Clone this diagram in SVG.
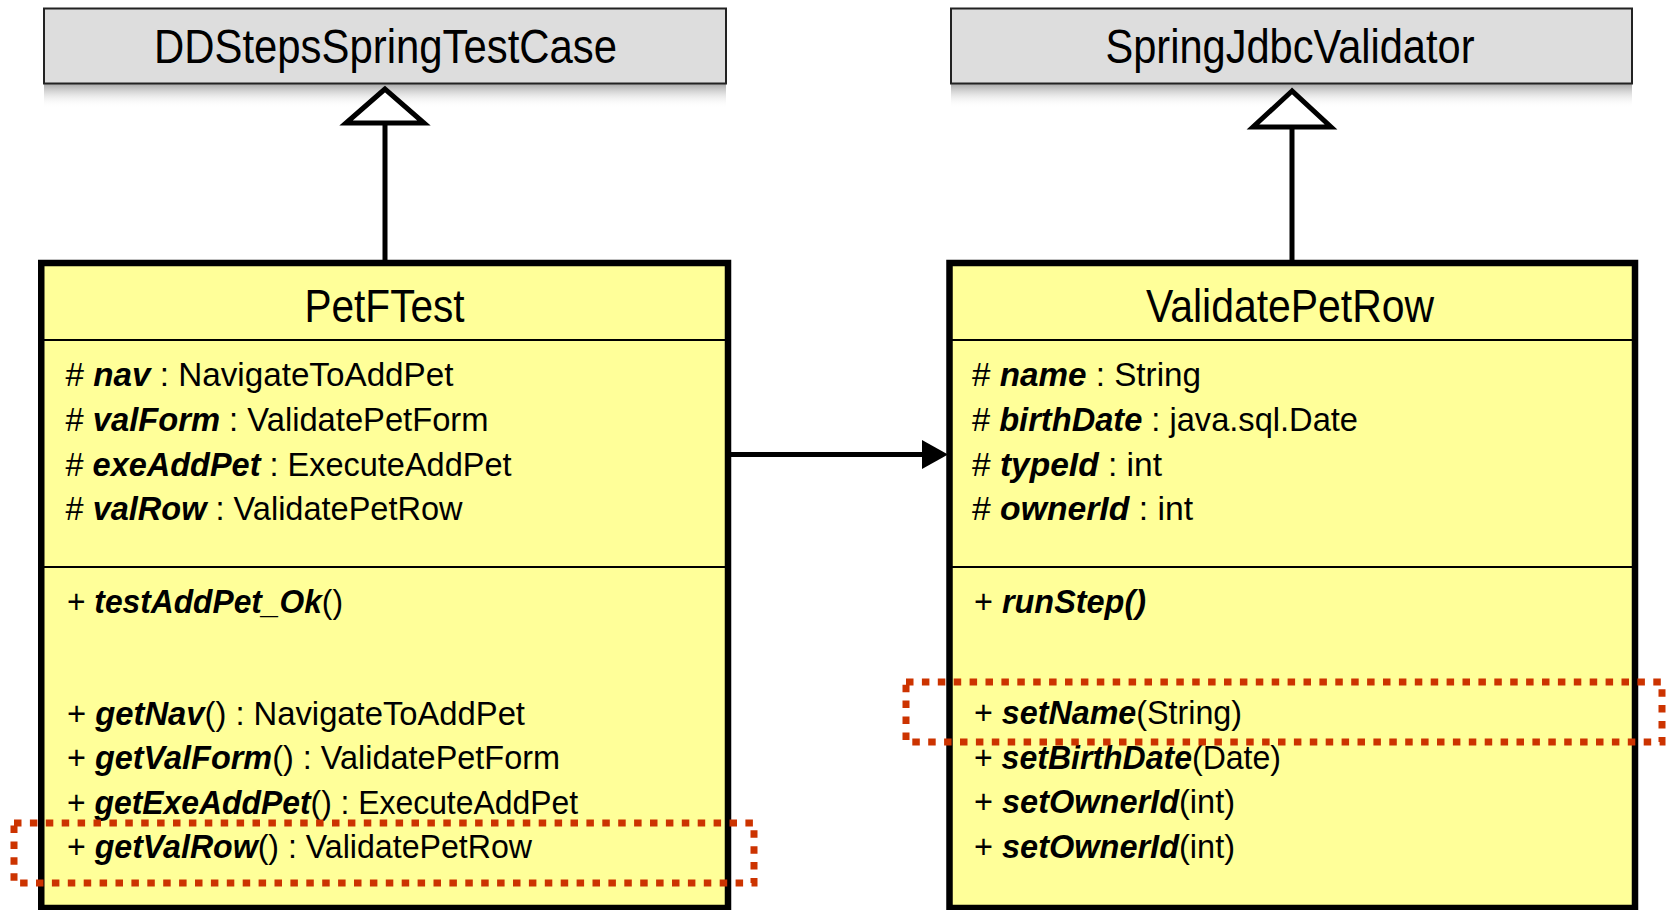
<svg xmlns="http://www.w3.org/2000/svg" width="1666" height="910" viewBox="0 0 1666 910">
<style>
text{font-family:"Liberation Sans Narrow","Liberation Sans",Arial,sans-serif;fill:#000}
.title{font-size:48px;text-anchor:middle}
.cname{font-size:46px;text-anchor:middle}
.m{font-size:33px}
.b{font-weight:bold;font-style:italic}
.parent{fill:#dddddd;stroke:#222;stroke-width:2}
.cls{fill:#ffff99;stroke:#000;stroke-width:6.5}
.div{stroke:#000;stroke-width:2.2;fill:none}
.edge{stroke:#000;stroke-width:5;fill:none}
.tri{fill:#fff;stroke:#000;stroke-width:5;stroke-linejoin:miter}
.hl{fill:none;stroke:#cc3300;stroke-width:7;stroke-dasharray:7.5 8.4}
</style>
<defs>
<linearGradient id="shadow" x1="0" y1="0" x2="0" y2="1">
<stop offset="0" stop-color="#a8a8a8"/>
<stop offset="1" stop-color="#ffffff" stop-opacity="0"/>
</linearGradient>
</defs>

<g id="DDStepsSpringTestCase">
<rect x="44" y="84" width="682" height="24" fill="url(#shadow)"/>
<rect class="parent" x="44" y="8.5" width="682" height="75"/>
<text class="title" x="385.5" y="63" textLength="463" lengthAdjust="spacingAndGlyphs">DDStepsSpringTestCase</text>
</g>

<g id="SpringJdbcValidator">
<rect x="951" y="84" width="681" height="24" fill="url(#shadow)"/>
<rect class="parent" x="951" y="8.5" width="681" height="75"/>
<text class="title" x="1290" y="63" textLength="369" lengthAdjust="spacingAndGlyphs">SpringJdbcValidator</text>
</g>

<g id="PetFTest">
<rect class="cls" x="41.25" y="263" width="686.75" height="645"/>
<line class="div" x1="44" y1="340" x2="725" y2="340"/>
<line class="div" x1="44" y1="567" x2="725" y2="567"/>
<text class="cname" x="384.5" y="322" textLength="160" lengthAdjust="spacingAndGlyphs">PetFTest</text>
<text class="m" x="65.5" y="386" textLength="388" lengthAdjust="spacingAndGlyphs"># <tspan class="b">nav</tspan> : NavigateToAddPet</text>
<text class="m" x="65.5" y="431" textLength="423" lengthAdjust="spacingAndGlyphs"># <tspan class="b">valForm</tspan> : ValidatePetForm</text>
<text class="m" x="65.5" y="475.5" textLength="446" lengthAdjust="spacingAndGlyphs"># <tspan class="b">exeAddPet</tspan> : ExecuteAddPet</text>
<text class="m" x="65.5" y="520" textLength="397" lengthAdjust="spacingAndGlyphs"># <tspan class="b">valRow</tspan> : ValidatePetRow</text>
<text class="m" x="67" y="613" textLength="276" lengthAdjust="spacingAndGlyphs">+ <tspan class="b">testAddPet_Ok</tspan>()</text>
<text class="m" x="67" y="725" textLength="458" lengthAdjust="spacingAndGlyphs">+ <tspan class="b">getNav</tspan>() : NavigateToAddPet</text>
<text class="m" x="67" y="769" textLength="493" lengthAdjust="spacingAndGlyphs">+ <tspan class="b">getValForm</tspan>() : ValidatePetForm</text>
<text class="m" x="67" y="814" textLength="511" lengthAdjust="spacingAndGlyphs">+ <tspan class="b">getExeAddPet</tspan>() : ExecuteAddPet</text>
<text class="m" x="67" y="858" textLength="465" lengthAdjust="spacingAndGlyphs">+ <tspan class="b">getValRow</tspan>() : ValidatePetRow</text>
</g>

<g id="ValidatePetRow">
<rect class="cls" x="949.5" y="263" width="685.5" height="645"/>
<line class="div" x1="952" y1="340" x2="1632" y2="340"/>
<line class="div" x1="952" y1="567" x2="1632" y2="567"/>
<text class="cname" x="1290" y="322" textLength="288" lengthAdjust="spacingAndGlyphs">ValidatePetRow</text>
<text class="m" x="972" y="386" textLength="229" lengthAdjust="spacingAndGlyphs"># <tspan class="b">name</tspan> : String</text>
<text class="m" x="972" y="431" textLength="386" lengthAdjust="spacingAndGlyphs"># <tspan class="b">birthDate</tspan> : java.sql.Date</text>
<text class="m" x="972" y="475.5" textLength="190" lengthAdjust="spacingAndGlyphs"># <tspan class="b">typeId</tspan> : int</text>
<text class="m" x="972" y="520" textLength="221" lengthAdjust="spacingAndGlyphs"># <tspan class="b">ownerId</tspan> : int</text>
<text class="m" x="974" y="613" textLength="172" lengthAdjust="spacingAndGlyphs">+ <tspan class="b">runStep()</tspan></text>
<text class="m" x="974" y="724" textLength="268" lengthAdjust="spacingAndGlyphs">+ <tspan class="b">setName</tspan>(String)</text>
<text class="m" x="974" y="769" textLength="307" lengthAdjust="spacingAndGlyphs">+ <tspan class="b">setBirthDate</tspan>(Date)</text>
<text class="m" x="974" y="813" textLength="261" lengthAdjust="spacingAndGlyphs">+ <tspan class="b">setOwnerId</tspan>(int)</text>
<text class="m" x="974" y="858" textLength="261" lengthAdjust="spacingAndGlyphs">+ <tspan class="b">setOwnerId</tspan>(int)</text>
</g>

<g id="connectors">
<line class="edge" x1="385" y1="124" x2="385" y2="261"/>
<polygon class="tri" points="385,89 346,123 424,123"/>
<line class="edge" x1="1292" y1="127" x2="1292" y2="261"/>
<polygon class="tri" points="1292,91 1253,127 1331,127"/>
<line class="edge" x1="730" y1="454.5" x2="925" y2="454.5"/>
<polygon points="922,440 948,454.5 922,469" fill="#000"/>
</g>

<g id="highlights">
<rect class="hl" x="14" y="823" width="740" height="60"/>
<rect class="hl" x="906" y="682" width="756" height="60"/>
</g>
</svg>
